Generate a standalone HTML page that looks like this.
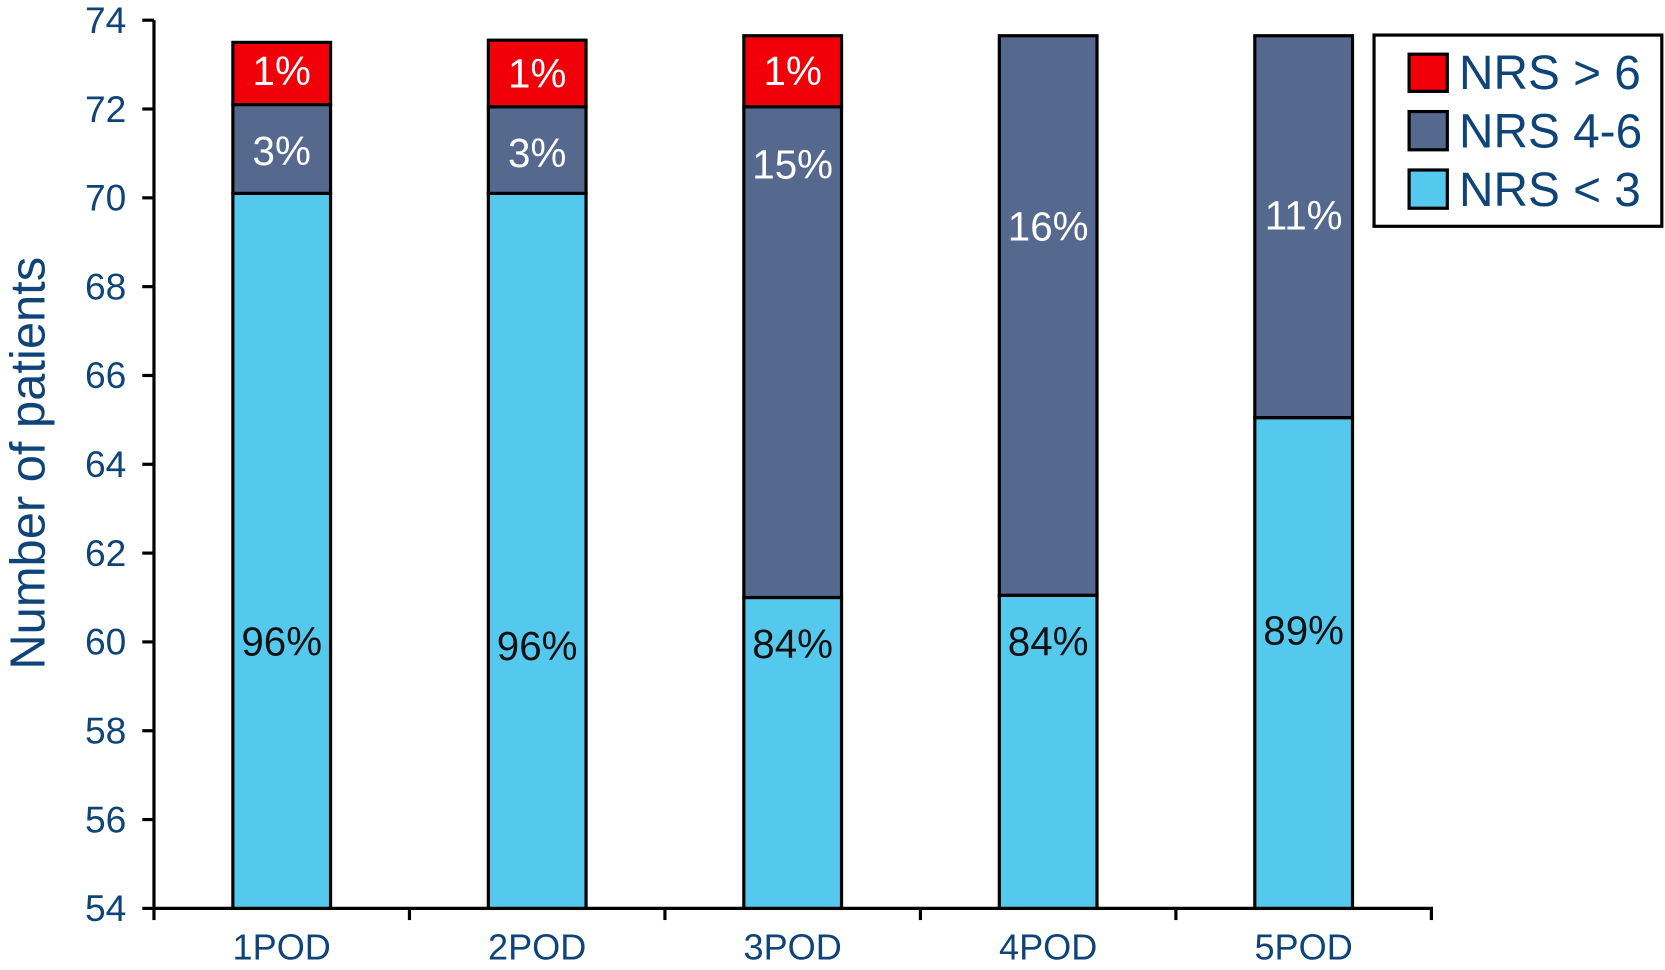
<!DOCTYPE html>
<html><head><meta charset="utf-8"><style>
html,body{margin:0;padding:0;background:#fff;}
svg{display:block;font-family:"Liberation Sans",Arial,sans-serif;}
</style></head><body>
<svg id="chart" width="1665" height="970" viewBox="0 0 1568 913" preserveAspectRatio="none" xmlns="http://www.w3.org/2000/svg">
<g id="axes"></g>
<g id="bars"></g>
<text transform="translate(42,436) rotate(-90)" text-anchor="middle" font-size="46" fill="#0f4479">Number of patients</text>
<g>
<rect x="1294" y="33" width="271" height="180" fill="#fff" stroke="#000" stroke-width="3"/>
<g><rect x="1327" y="51" width="36" height="35" fill="#f10009" stroke="#000" stroke-width="3"/><text x="1374" y="84" font-size="45" fill="#0f4479">NRS &gt; 6</text></g>
<g><rect x="1327" y="105" width="36" height="36" fill="#55698f" stroke="#000" stroke-width="3"/><text x="1374" y="139" font-size="45" fill="#0f4479">NRS 4-6</text></g>
<g><rect x="1327" y="160" width="36" height="36" fill="#55c8ee" stroke="#000" stroke-width="3"/><text x="1374" y="194" font-size="45" fill="#0f4479">NRS &lt; 3</text></g>
</g>
</svg>
<script>
const categories = ["1POD","2POD","3POD","4POD","5POD"];
const lowVals = [70.1, 70.1, 61.0, 61.05, 65.05];
const midVals = [2.0, 1.95, 11.05, 12.6, 8.6];
const highVals = [1.4, 1.5, 1.6, 0, 0];
const lowLabels = ["96%","96%","84%","84%","89%"];
const midLabels = ["3%","3%","15%","16%","11%"];
const highLabels = ["1%","1%","1%","",""];
const lowLabelAt = [60.0, 59.9, 59.95, 60.0, 60.25];
const midLabelAt = [71.05, 71.0, 70.75, 69.35, 69.6];
const highLabelAt = [72.85, 72.8, 72.85, 0, 0];
const yTicks = [54,56,58,60,62,64,66,68,70,72,74];
const yMin = 54, yMax = 74;

const NS = "http://www.w3.org/2000/svg";
const x0 = 145, x1 = 1348, yTop = 19, yBot = 855;
const catW = (x1 - x0) / categories.length;
const barW = 92;
function yS(v){ return yBot - (v - yMin) / (yMax - yMin) * (yBot - yTop); }
function xC(i){ return x0 + catW * (i + 0.5); }
function mk(tag, attrs, parent){ const e = document.createElementNS(NS, tag); for (const k in attrs) e.setAttribute(k, attrs[k]); parent.appendChild(e); return e; }

const axes = document.getElementById("axes");
const bars = document.getElementById("bars");
let yl = mk("line",{x1:x0,y1:yTop,x2:x0,y2:yBot+1.5,stroke:"#000","stroke-width":3},axes);


let xl = mk("line",{x1:x0-1.5,y1:yBot,x2:x1+1.5,y2:yBot,stroke:"#000","stroke-width":3},axes);


yTicks.forEach(t => {
  const y = yS(t);
  let tk = mk("line",{x1:x0-11,y1:y,x2:x0,y2:y,stroke:"#000","stroke-width":3},axes);
  
  
  let tl = mk("text",{x:119,y:y+12,"text-anchor":"end","font-size":35,fill:"#0f4479"},axes);
  tl.textContent = t;
  
  
});
for (let i = 0; i <= categories.length; i++) {
  const x = x0 + catW * i;
  let tk = mk("line",{x1:x,y1:yBot,x2:x,y2:yBot+11,stroke:"#000","stroke-width":3},axes);
  
  
}
categories.forEach((c, i) => {
  let tl = mk("text",{x:xC(i),y:903,"text-anchor":"middle","font-size":34,fill:"#0f4479"},axes);
  tl.textContent = c;
  
  
  const bx = xC(i) - barW/2;
  const segs = [
    [yMin, lowVals[i], "#55c8ee", lowLabels[i], lowLabelAt[i], "#111", "low"],
    [lowVals[i], lowVals[i] + midVals[i], "#55698f", midLabels[i], midLabelAt[i], "#fff", "mid"],
    [lowVals[i] + midVals[i], lowVals[i] + midVals[i] + highVals[i], "#f10009", highLabels[i], highLabelAt[i], "#fff", "high"]
  ];
  segs.forEach(s => {
    if (s[1] - s[0] <= 0) return;
    let r = mk("rect",{x:bx,y:yS(s[1]),width:barW,height:yS(s[0]) - yS(s[1]),fill:s[2],stroke:"#000","stroke-width":3},bars);
    
    
    if (s[3]) {
      let t = mk("text",{x:xC(i),y:yS(s[4]) + 13,"text-anchor":"middle","font-size":38,fill:s[5]},bars);
      t.textContent = s[3];
      
      
    }
  });
});
</script>
</body></html>
